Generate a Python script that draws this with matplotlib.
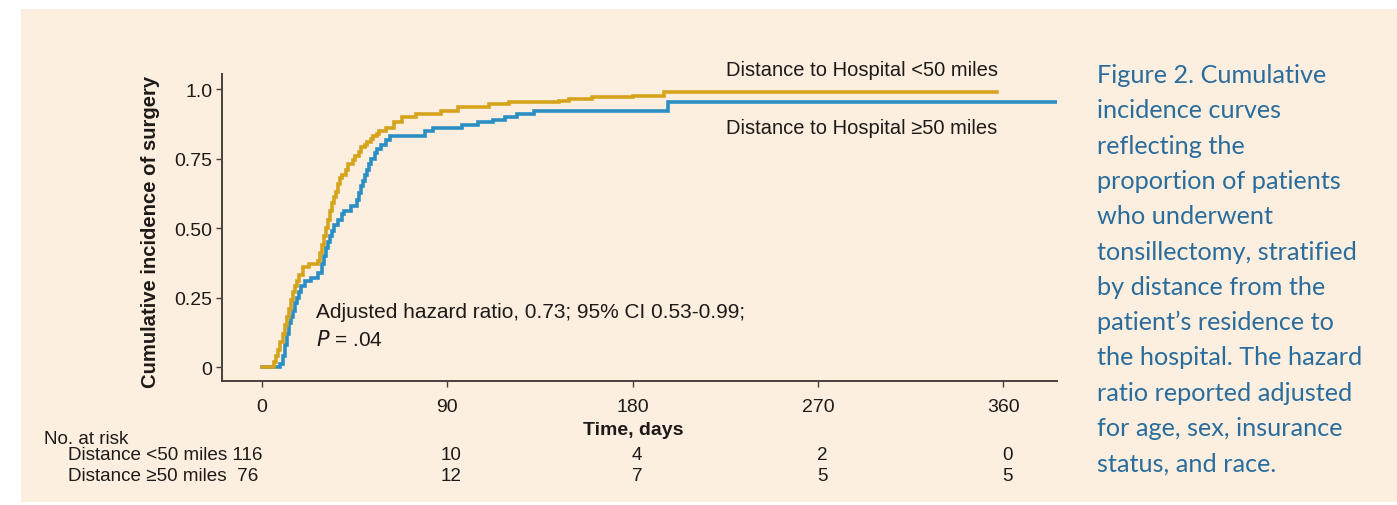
import matplotlib
matplotlib.use("Agg")
import matplotlib.pyplot as plt
from matplotlib.patches import Rectangle
import matplotlib.transforms as mtransforms

# ---------------- data ----------------
near_days = [0, 6, 7, 8, 9, 10, 11, 12, 13, 14, 15, 16, 17, 18, 20, 23, 27, 28, 29, 30, 31,
             32, 33, 34, 35, 36, 37, 38, 39, 41, 42, 44, 45, 47, 48, 50, 51, 53, 54, 56, 57,
             60, 64, 68, 75, 87, 95, 110, 120, 144, 149, 160, 180, 195, 357]
near_vals = [0, 0.02, 0.04, 0.06, 0.09, 0.12, 0.15, 0.18, 0.21, 0.24, 0.27, 0.29, 0.31,
             0.33, 0.36, 0.37, 0.38, 0.41, 0.44, 0.47, 0.50, 0.53, 0.56, 0.59, 0.61, 0.63,
             0.66, 0.68, 0.69, 0.71, 0.73, 0.745, 0.76, 0.775, 0.79, 0.80, 0.81, 0.82,
             0.83, 0.84, 0.85, 0.86, 0.88, 0.90, 0.91, 0.92, 0.935, 0.945, 0.953, 0.957,
             0.964, 0.97, 0.975, 0.99, 0.99]

far_days = [0, 9, 10, 11, 12, 13, 14, 15, 16, 17, 18, 19, 21, 24, 27, 29, 30, 31, 32, 33,
            34, 35, 37, 39, 40, 43, 46, 47, 48, 49, 50, 51, 52, 53, 55, 56, 58, 60, 62, 79,
            83, 90, 97, 105, 112, 118, 124, 132, 197, 386]
far_vals = [0, 0.01, 0.04, 0.08, 0.12, 0.16, 0.18, 0.20, 0.23, 0.25, 0.27, 0.29, 0.31,
            0.32, 0.34, 0.37, 0.40, 0.43, 0.45, 0.47, 0.49, 0.51, 0.53, 0.55, 0.56, 0.58,
            0.60, 0.625, 0.65, 0.67, 0.69, 0.71, 0.73, 0.75, 0.77, 0.785, 0.80, 0.815,
            0.83, 0.85, 0.86, 0.86, 0.87, 0.88, 0.89, 0.90, 0.91, 0.92, 0.953, 0.953]

x_ticks = [0, 90, 180, 270, 360]
y_ticks = [0, 0.25, 0.50, 0.75, 1.0]
y_ticklabels = ["0", "0.25", "0.50", "0.75", "1.0"]

risk_near = [10, 4, 2, 0]
risk_far = [12, 7, 5, 5]
risk_near_label = "Distance <50 miles 116"
risk_far_label = "Distance \u226550 miles  76"

caption_lines = [
    "Figure 2. Cumulative",
    "incidence curves",
    "reflecting the",
    "proportion of patients",
    "who underwent",
    "tonsillectomy, stratified",
    "by distance from the",
    "patient\u2019s residence to",
    "the hospital. The hazard",
    "ratio reported adjusted",
    "for age, sex, insurance",
    "status, and race.",
]

# ---------------- style ----------------
W, H = 1397, 506
BG = "#fcefe0"
YELLOW = "#d6a41c"
BLUE = "#2b8fc4"
DARK = "#1e1a18"
SPINE = "#4a403b"
CAP = "#2a6c9c"
FS = 14
plt.rcParams["font.family"] = ["Liberation Sans", "DejaVu Sans"]

fig = plt.figure(figsize=(W / 100, H / 100), dpi=100, facecolor="white")


def fx(px):
    return px / W


def fy(py):
    return 1 - py / H


fig.patches.append(Rectangle((fx(21), fy(503)), fx(W) - fx(21), fy(10) - fy(503),
                             transform=fig.transFigure, facecolor=BG, edgecolor="none",
                             zorder=-10))

ax_l, ax_r, ax_t, ax_b = 222, 1057, 75, 382
ax = fig.add_axes([fx(ax_l), fy(ax_b), fx(ax_r - ax_l), (ax_b - ax_t) / H])
ax.set_facecolor("none")
ax.set_zorder(5)

ax.plot(near_days, near_vals, drawstyle="steps-post", color=YELLOW, lw=2.6,
        solid_joinstyle="miter", zorder=3)
ax.plot(far_days, far_vals, drawstyle="steps-post", color=BLUE, lw=2.6,
        solid_joinstyle="miter", zorder=2)

ax.set_xlim(-19.4, 386)
ax.set_ylim(-0.05, 1.054)
for s in ["top", "right"]:
    ax.spines[s].set_visible(False)
for s in ["left", "bottom"]:
    ax.spines[s].set_color(SPINE)
    ax.spines[s].set_linewidth(1.4)

ax.set_xticks(x_ticks)
ax.set_yticks(y_ticks)
ax.set_yticklabels(y_ticklabels)
ax.tick_params(axis="both", direction="out", length=4, width=1, color=SPINE,
               labelsize=FS, labelcolor=DARK)
ax.tick_params(axis="x", pad=8)
ax.tick_params(axis="y", pad=3)

ax.set_ylabel("Cumulative incidence of surgery", fontsize=14.6, fontweight="bold",
              color=DARK)
ax.yaxis.set_label_coords(-0.074, 0.49)
ax.set_xlabel("Time, days", fontsize=FS, fontweight="bold", color=DARK)
ax.xaxis.set_label_coords(0.492, -0.13)

# curve labels
fig.text(fx(726), fy(71), "Distance to Hospital <50 miles", fontsize=14.5, color=DARK,
         ha="left", va="center", zorder=6)
fig.text(fx(726), fy(128), "Distance to Hospital \u226550 miles", fontsize=14.5,
         color=DARK, ha="left", va="center", zorder=6)

# annotation
fig.text(fx(316), fy(313), "Adjusted hazard ratio, 0.73; 95% CI 0.53-0.99;",
         fontsize=15, color=DARK, ha="left", va="center", zorder=6)
fig.text(fx(316), fy(340), r"$\mathit{P}$ = .04", fontsize=15, color=DARK,
         ha="left", va="center", zorder=6)

# risk table
TFS = 13.6
fig.text(fx(44), fy(440), "No. at risk", fontsize=TFS, color=DARK, ha="left", va="center")
fig.text(fx(68), fy(456), risk_near_label, fontsize=TFS, color=DARK, ha="left", va="center")
fig.text(fx(68), fy(477), risk_far_label, fontsize=TFS, color=DARK, ha="left", va="center")
trans = mtransforms.blended_transform_factory(ax.transData, fig.transFigure)
for xt, n1, n2 in zip(x_ticks[1:], risk_near, risk_far):
    ax.text(xt + 2, fy(456), str(n1), fontsize=TFS, color=DARK, ha="center", va="center",
            transform=trans, clip_on=False)
    ax.text(xt + 2, fy(477), str(n2), fontsize=TFS, color=DARK, ha="center", va="center",
            transform=trans, clip_on=False)

# caption
for i, line in enumerate(caption_lines):
    fig.text(fx(1097), fy(83 + i * 35.3), line, fontsize=18.2, color=CAP,
             family=["Lato", "DejaVu Sans"], ha="left", va="baseline")

fig.savefig("out.png", dpi=100, facecolor="white")
